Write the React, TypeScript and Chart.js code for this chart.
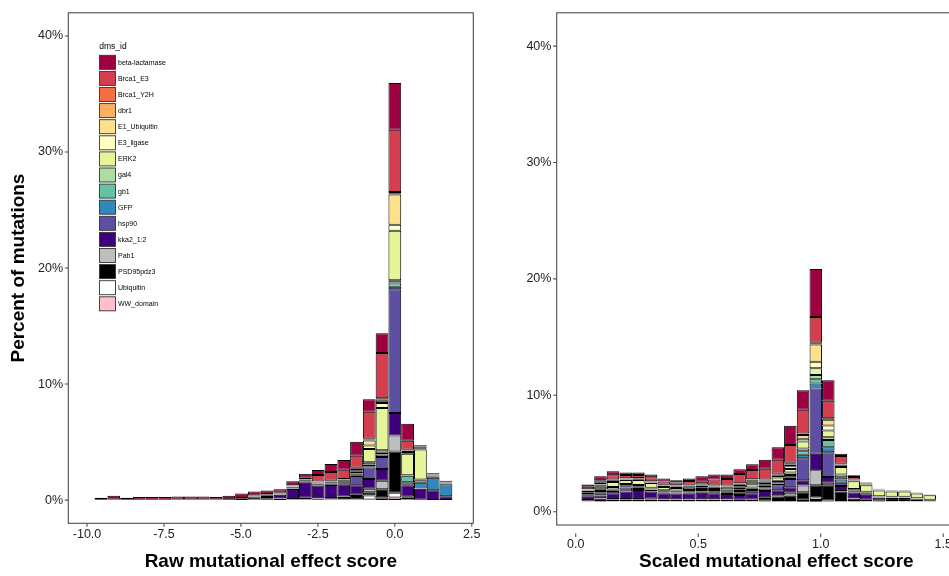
import React, { useEffect, useRef } from "react";
import { Chart, registerables } from "chart.js";

Chart.register(...registerables);

const FONT = '"Liberation Sans", Arial, Helvetica, sans-serif';
Chart.defaults.font.family = FONT;

// ---------- categories ----------
const seriesNames = [
  "beta-lactamase", "Brca1_E3", "Brca1_Y2H", "dbr1", "E1_Ubiquitin", "E3_ligase", "ERK2", "gal4",
  "gb1", "GFP", "hsp90", "kka2_1:2", "Pab1", "PSD95pdz3", "Ubiquitin", "WW_domain",
];
const seriesColors = [
  "#9E0142", "#D53E4F", "#F46D43", "#FDAE61", "#FEE08B", "#FFFFBF", "#E6F598", "#ABDDA4",
  "#66C2A5", "#3288BD", "#5E4FA2", "#3F007D", "#BEBEBE", "#000000", "#FFFFFF", "#FFC0CB",
];

// ---------- tick labels ----------
const percentTicks = [0, 10, 20, 30, 40];
const rawTicks = [-10, -7.5, -5, -2.5, 0, 2.5];
const scaledTicks = [0, 0.5, 1, 1.5];

// ---------- raw score histogram (bin centres, % of mutations) ----------
const rawBins = [-9.545, -9.13, -8.715, -8.3, -7.885, -7.47, -7.055, -6.64, -6.225, -5.81, -5.395, -4.98, -4.565, -4.15, -3.735, -3.32, -2.905, -2.49, -2.075, -1.66, -1.245, -0.83, -0.415, 0, 0.415, 0.83, 1.245, 1.66];
const raw_beta = [0.17, 0.32, 0.17, 0.22, 0.22, 0.22, 0.26, 0.26, 0.26, 0.2, 0.3, 0.38, 0.35, 0.3, 0.3, 0.33, 0.34, 0.43, 0.68, 0.83, 1.2, 1.09, 1.71, 4.04, 1.45, 0.06, 0.05, 0.05];
const raw_brca1E3 = [0, 0, 0, 0, 0, 0, 0, 0, 0, 0, 0, 0, 0, 0.05, 0.05, 0.06, 0.1, 0.57, 0.77, 0.8, 1.03, 2.33, 3.9, 5.36, 0.77, 0.06, 0.05, 0.05];
const raw_brca1Y2H = [0, 0, 0, 0, 0, 0, 0, 0, 0, 0, 0, 0, 0, 0, 0, 0.02, 0.03, 0.02, 0.02, 0.02, 0.05, 0.05, 0.1, 0.1, 0.05, 0.06, 0.03, 0.03];
const raw_dbr1 = [0, 0, 0, 0, 0, 0, 0, 0, 0, 0, 0, 0, 0, 0, 0, 0.02, 0.03, 0.02, 0.02, 0.02, 0.05, 0.1, 0.1, 0.1, 0.05, 0.06, 0.03, 0.03];
const raw_e1 = [0, 0, 0, 0, 0, 0, 0, 0, 0, 0, 0, 0, 0, 0, 0, 0.02, 0.03, 0.03, 0.03, 0.04, 0.12, 0.43, 0.2, 2.62, 0.1, 0.06, 0.03, 0.03];
const raw_e3ligase = [0, 0, 0, 0, 0, 0, 0, 0, 0, 0, 0, 0, 0, 0, 0, 0.02, 0.03, 0.03, 0.03, 0.04, 0.12, 0.29, 0.43, 0.51, 0.15, 0.06, 0.03, 0.03];
const raw_erk2 = [0, 0, 0, 0, 0, 0, 0, 0, 0, 0, 0, 0, 0.05, 0, 0.05, 0.05, 0.05, 0.05, 0.06, 0.08, 0.15, 1.15, 3.65, 4.27, 1.85, 2.6, 0.08, 0.04];
const raw_gal4 = [0, 0, 0, 0, 0, 0, 0, 0, 0, 0, 0, 0, 0, 0.05, 0, 0.05, 0.05, 0.05, 0.06, 0.07, 0.08, 0.2, 0.2, 0.2, 0.05, 0.05, 0.05, 0.02];
const raw_gb1 = [0, 0, 0, 0, 0, 0, 0, 0, 0, 0, 0, 0, 0, 0, 0.05, 0.03, 0.03, 0.08, 0.06, 0.06, 0.08, 0.15, 0.17, 0.37, 0.57, 0.23, 0.05, 0.02];
const raw_gfp = [0, 0, 0, 0, 0, 0, 0, 0, 0, 0, 0, 0, 0, 0, 0, 0.02, 0.02, 0.02, 0.02, 0.03, 0.06, 0.1, 0.2, 0.2, 0.2, 0.48, 1.08, 1.03];
const raw_hsp90 = [0, 0, 0, 0, 0, 0, 0, 0, 0, 0, 0, 0, 0.04, 0.05, 0.04, 0.05, 0.05, 0.05, 0.05, 0.1, 0.8, 0.99, 1.05, 10.68, 0.05, 0.03, 0, 0];
const raw_kka2 = [0, 0, 0, 0, 0, 0, 0, 0, 0, 0, 0, 0.04, 0.05, 0.12, 0.3, 0.85, 1.3, 1.1, 1.12, 1.06, 0.83, 0.85, 1.0, 1.94, 1.0, 0.94, 0.85, 0.34];
const raw_pab1 = [0, 0, 0, 0, 0, 0, 0, 0, 0, 0, 0, 0, 0, 0, 0.03, 0.02, 0.03, 0.03, 0.03, 0.04, 0.1, 0.29, 0.74, 1.37, 0.08, 0.02, 0, 0];
const raw_psd95 = [0.03, 0.05, 0.03, 0.04, 0.04, 0.04, 0.05, 0.05, 0.05, 0.06, 0.08, 0.15, 0.2, 0.15, 0.12, 0.05, 0.1, 0.08, 0.1, 0.18, 0.3, 0.28, 0.68, 3.56, 0.1, 0.02, 0, 0];
const raw_ubiquitin = [0, 0, 0, 0, 0, 0, 0, 0, 0, 0, 0, 0, 0.05, 0.08, 0, 0.02, 0.04, 0.02, 0.04, 0.05, 0.03, 0.34, 0.1, 0.4, 0.05, 0, 0, 0];
const raw_ww = [0, 0, 0, 0, 0, 0, 0, 0, 0, 0, 0, 0, 0, 0.03, 0, 0.01, 0.03, 0.02, 0.02, 0.03, 0.02, 0.06, 0.15, 0.23, 0.05, 0, 0, 0];

// ---------- scaled score histogram ----------
const scaledBins = [0.049, 0.101, 0.152, 0.204, 0.256, 0.308, 0.359, 0.411, 0.463, 0.514, 0.566, 0.618, 0.669, 0.721, 0.773, 0.825, 0.876, 0.928, 0.98, 1.031, 1.083, 1.135, 1.186, 1.238, 1.29, 1.342, 1.393, 1.445];
const sc_beta = [0.2, 0.34, 0.34, 0.2, 0.2, 0.23, 0.26, 0.2, 0.2, 0.48, 0.43, 0.37, 0.4, 0.48, 0.77, 1.08, 1.65, 1.68, 4.12, 1.76, 0.2, 0.14, 0.04, 0.03, 0.02, 0.02, 0.02, 0.02];
const sc_brca1E3 = [0.2, 0.23, 0.37, 0.28, 0.26, 0.34, 0.28, 0.23, 0.34, 0.23, 0.51, 0.57, 0.8, 0.8, 0.94, 1.19, 1.53, 2.02, 2.22, 1.5, 0.65, 0.23, 0.04, 0.03, 0.02, 0.02, 0.02, 0.02];
const sc_brca1Y2H = [0.03, 0.14, 0.03, 0.05, 0.05, 0.05, 0.05, 0.05, 0.05, 0.05, 0.03, 0.03, 0.03, 0.03, 0.03, 0.03, 0.05, 0.05, 0.07, 0.06, 0.05, 0.03, 0.03, 0.02, 0.02, 0.02, 0.01, 0.01];
const sc_dbr1 = [0.03, 0.03, 0.03, 0.03, 0.03, 0.03, 0.03, 0.03, 0.03, 0.03, 0.03, 0.03, 0.03, 0.03, 0.05, 0.05, 0.1, 0.08, 0.07, 0.06, 0.05, 0.03, 0.03, 0.02, 0.02, 0.02, 0.01, 0.01];
const sc_e1 = [0.03, 0.03, 0.05, 0.03, 0.03, 0.03, 0.03, 0.03, 0.05, 0.05, 0.03, 0.03, 0.04, 0.06, 0.08, 0.1, 0.15, 0.34, 1.48, 0.51, 0.08, 0.03, 0.03, 0.02, 0.02, 0.02, 0.01, 0.01];
const sc_e3ligase = [0.05, 0.14, 0.1, 0.05, 0.06, 0.05, 0.08, 0.14, 0.12, 0.1, 0.05, 0.05, 0.05, 0.1, 0.1, 0.15, 0.25, 0.23, 0.57, 0.43, 0.1, 0.06, 0.06, 0.03, 0.03, 0.03, 0.02, 0.01];
const sc_erk2 = [0.17, 0.2, 0.43, 0.34, 0.43, 0.39, 0.28, 0.2, 0.2, 0.15, 0.15, 0.2, 0.2, 0.2, 0.15, 0.28, 0.3, 0.6, 0.57, 0.57, 0.65, 0.65, 0.57, 0.5, 0.45, 0.45, 0.42, 0.38];
const sc_gal4 = [0.11, 0.17, 0.2, 0.15, 0.12, 0.08, 0.08, 0.08, 0.1, 0.1, 0.1, 0.1, 0.17, 0.28, 0.12, 0.12, 0.2, 0.23, 0.37, 0.23, 0.23, 0.08, 0.06, 0.03, 0.03, 0.03, 0.02, 0.01];
const sc_gb1 = [0.06, 0.1, 0.08, 0.08, 0.08, 0.06, 0.06, 0.06, 0.06, 0.08, 0.1, 0.1, 0.15, 0.12, 0.12, 0.12, 0.2, 0.3, 0.37, 0.63, 0.2, 0.06, 0.05, 0.03, 0.02, 0.02, 0.02, 0.01];
const sc_gfp = [0.05, 0.08, 0.05, 0.07, 0.06, 0.04, 0.04, 0.04, 0.04, 0.05, 0.08, 0.08, 0.15, 0.1, 0.12, 0.15, 0.15, 0.3, 0.43, 0.43, 0.28, 0.06, 0.05, 0.03, 0.02, 0.02, 0.02, 0.01];
const sc_hsp90 = [0.12, 0.2, 0.2, 0.34, 0.17, 0.15, 0.08, 0.08, 0.08, 0.1, 0.1, 0.1, 0.2, 0.28, 0.2, 0.43, 0.71, 1.9, 5.6, 2.13, 0.28, 0.1, 0.1, 0.03, 0.03, 0.03, 0.02, 0.01];
const sc_kka2 = [0.28, 0.23, 0.5, 0.65, 0.77, 0.63, 0.5, 0.5, 0.5, 0.55, 0.5, 0.45, 0.4, 0.55, 0.55, 0.43, 0.48, 0.45, 1.42, 0.48, 0.43, 0.5, 0.42, 0.25, 0.26, 0.26, 0.15, 0.08];
const sc_pab1 = [0.03, 0.03, 0.03, 0.05, 0.06, 0.05, 0.04, 0.04, 0.04, 0.04, 0.04, 0.04, 0.03, 0.03, 0.05, 0.1, 0.23, 0.57, 1.28, 0.23, 0.05, 0.04, 0.03, 0.02, 0.01, 0.01, 0.01, 0.01];
const sc_psd95 = [0.09, 0.2, 0.15, 0.13, 0.13, 0.15, 0.13, 0.12, 0.13, 0.13, 0.13, 0.13, 0.1, 0.1, 0.25, 0.3, 0.38, 0.65, 1.05, 1.3, 0.8, 0.2, 0.1, 0.05, 0.03, 0.03, 0.03, 0.02];
const sc_ubiquitin = [0.02, 0.04, 0.03, 0.03, 0.03, 0.03, 0.03, 0.03, 0.03, 0.03, 0.03, 0.03, 0.02, 0.03, 0.05, 0.1, 0.1, 0.1, 0.23, 0.07, 0.04, 0.03, 0.02, 0.01, 0.01, 0.01, 0.01, 0.01];
const sc_ww = [0.01, 0.03, 0.02, 0.02, 0.02, 0.02, 0.02, 0.02, 0.02, 0.02, 0.02, 0.02, 0.02, 0.02, 0.03, 0.05, 0.05, 0.07, 0.14, 0.04, 0.03, 0.03, 0.02, 0.01, 0.01, 0.01, 0.01, 0.01];

const rawSeries = [raw_beta, raw_brca1E3, raw_brca1Y2H, raw_dbr1, raw_e1, raw_e3ligase, raw_erk2, raw_gal4, raw_gb1, raw_gfp, raw_hsp90, raw_kka2, raw_pab1, raw_psd95, raw_ubiquitin, raw_ww];
const scaledSeries = [sc_beta, sc_brca1E3, sc_brca1Y2H, sc_dbr1, sc_e1, sc_e3ligase, sc_erk2, sc_gal4, sc_gb1, sc_gfp, sc_hsp90, sc_kka2, sc_pab1, sc_psd95, sc_ubiquitin, sc_ww];

function buildDatasets(bins: number[], series: number[][]) {
  // first level is drawn on top of the stack (ggplot order), so reverse
  return seriesNames
    .map((name, i) => ({
      label: name,
      data: bins.map((x, j) => ({ x, y: series[i][j] > 0 ? series[i][j] : null })),
      backgroundColor: seriesColors[i],
      borderColor: "#000",
      borderWidth: 1,
      borderSkipped: false,
      inflateAmount: 0,
      barPercentage: 1,
      categoryPercentage: 1,
    }))
    .reverse();
}

type Panel = {
  width: number;
  padRight: number;
  yAxisWidth: number;
  xAxisHeight: number;
  xMin: number;
  xMax: number;
  xTicks: number[];
  xTitle: string;
  yTitle: string | null;
  xLabelPad: number;
  yShift: number;
  xShift: number;
  legend: boolean;
  bins: number[];
  series: number[][];
};

function framePlugin(p: Panel) {
  return {
    id: "frame",
    afterDraw(chart: any) {
      const { ctx, chartArea: ca, scales } = chart;
      ctx.save();
      ctx.strokeStyle = "#4d4d4d";
      ctx.lineWidth = 1.1;
      ctx.strokeRect(ca.left, ca.top, ca.right - ca.left, ca.bottom - ca.top);
      ctx.beginPath();
      for (const v of percentTicks) {
        const y = scales.y.getPixelForValue(v) + p.yShift;
        ctx.moveTo(ca.left - 3.5, y);
        ctx.lineTo(ca.left, y);
      }
      for (const v of p.xTicks) {
        const x = scales.x.getPixelForValue(v);
        ctx.moveTo(x, ca.bottom + p.xShift);
        ctx.lineTo(x, ca.bottom + p.xShift + 3.5);
      }
      ctx.stroke();
      if (p.legend) {
        ctx.textAlign = "left";
        ctx.textBaseline = "middle";
        ctx.fillStyle = "#000";
        ctx.font = `8.5px ${FONT}`;
        ctx.fillText("dms_id", ca.left + 31, 47);
        ctx.font = `7px ${FONT}`;
        seriesNames.forEach((name, i) => {
          const cy = 62.3 + i * 16.1;
          const bx = ca.left + 31.2;
          ctx.fillStyle = seriesColors[i];
          ctx.fillRect(bx, cy - 7, 16, 14);
          ctx.strokeStyle = "#333";
          ctx.lineWidth = 0.9;
          ctx.strokeRect(bx, cy - 7, 16, 14);
          ctx.fillStyle = "#000";
          ctx.fillText(name, bx + 18.5, cy + 0.5);
        });
      }
      ctx.restore();
    },
  };
}

function HistPanel({ p, left }: { p: Panel; left: number }) {
  const ref = useRef<HTMLCanvasElement | null>(null);
  useEffect(() => {
    if (!ref.current) return;
    const chart = new Chart(ref.current, {
      type: "bar",
      data: { datasets: buildDatasets(p.bins, p.series) as any },
      options: {
        animation: false,
        responsive: false,
        devicePixelRatio: 1,
        layout: { padding: { top: 8.3, right: p.padRight, left: 0, bottom: 0 } },
        plugins: { legend: { display: false }, tooltip: { enabled: false }, title: { display: false } },
        scales: {
          x: {
            type: "linear",
            stacked: true,
            offset: false,
            min: p.xMin,
            max: p.xMax,
            grid: { display: false, drawTicks: false },
            border: { display: false },
            ticks: {
              autoSkip: false,
              maxRotation: 0,
              padding: p.xLabelPad,
              color: "#222",
              font: { size: 12.5 },
              callback: (v: any) => Number(v).toFixed(1),
            },
            afterBuildTicks: (s: any) => {
              s.ticks = p.xTicks.map((value) => ({ value }));
            },
            afterFit: (s: any) => {
              s.height = p.xAxisHeight;
            },
            title: {
              display: true,
              text: p.xTitle,
              color: "#000",
              font: { size: 19, weight: "bold" },
              padding: { top: 0, bottom: 2.5 },
            },
          },
          y: {
            type: "linear",
            stacked: true,
            min: -2,
            max: 42,
            grid: { display: false, drawTicks: false },
            border: { display: false },
            ticks: {
              autoSkip: false,
              padding: 5.3,
              color: "#222",
              font: { size: 12.5 },
              labelOffset: p.yShift,
              callback: (v: any) => `${v}%`,
            },
            afterBuildTicks: (s: any) => {
              s.ticks = percentTicks.map((value) => ({ value }));
            },
            afterFit: (s: any) => {
              s.width = p.yAxisWidth;
            },
            title: {
              display: !!p.yTitle,
              text: p.yTitle || "",
              color: "#000",
              font: { size: 19, weight: "bold" },
              padding: { top: 7.6, bottom: 0 },
            },
          },
        },
      } as any,
      plugins: [framePlugin(p)],
    });
    return () => chart.destroy();
  }, [p]);
  return (
    <canvas
      ref={ref}
      width={p.width}
      height={576}
      style={{ position: "absolute", left, top: 0, width: p.width, height: 576 }}
    />
  );
}

const rawPanel: Panel = {
  width: 490,
  padRight: 16.7,
  yAxisWidth: 68.3,
  xAxisHeight: 52.7,
  xMin: -10.608,
  xMax: 2.549,
  xTicks: rawTicks,
  xTitle: "Raw mutational effect score",
  yTitle: "Percent of mutations",
  xLabelPad: 3.5,
  yShift: 0,
  xShift: 0,
  legend: true,
  bins: rawBins,
  series: rawSeries,
};

const scaledPanel: Panel = {
  width: 520,
  padRight: 14,
  yAxisWidth: 66.7,
  xAxisHeight: 51,
  xMin: -0.0776,
  xMax: 1.7155,
  xTicks: scaledTicks,
  xTitle: "Scaled mutational effect score",
  yTitle: null,
  xLabelPad: 12,
  yShift: 10,
  xShift: 8.5,
  legend: false,
  bins: scaledBins,
  series: scaledSeries,
};

export default function App() {
  return (
    <div
      style={{
        position: "fixed",
        left: 0,
        top: 0,
        width: 949,
        height: 576,
        overflow: "hidden",
        background: "#fff",
      }}
    >
      <HistPanel p={rawPanel} left={0} />
      <HistPanel p={scaledPanel} left={490} />
    </div>
  );
}
